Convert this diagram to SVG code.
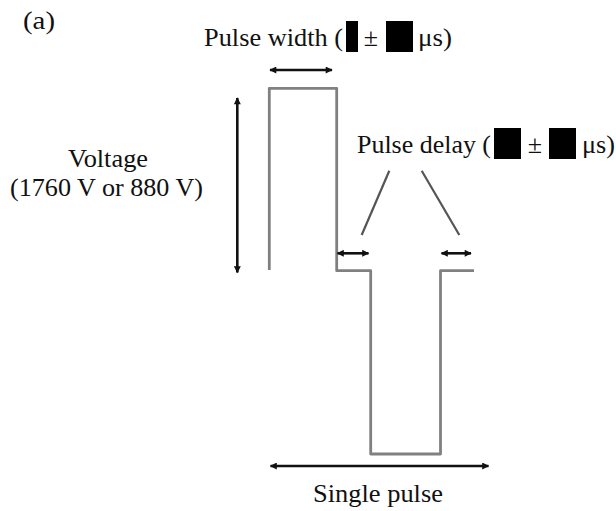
<svg xmlns="http://www.w3.org/2000/svg" width="616" height="511" viewBox="0 0 616 511">
<defs>
<marker id="ah" viewBox="0 0 10 10" refX="9" refY="5" markerWidth="8" markerHeight="7" markerUnits="userSpaceOnUse" orient="auto-start-reverse">
<path d="M0,0 L10,5 L0,10 Z" fill="#111"/>
</marker>
</defs>
<style>
text{font-family:'Liberation Serif','Times New Roman',serif;font-size:26px;fill:#111}
.wave{fill:none;stroke:#808080;stroke-width:2.8;stroke-linejoin:round}
.arr{fill:none;stroke:#111;stroke-width:2.6;marker-start:url(#ah);marker-end:url(#ah)}
.lead{fill:none;stroke:#555;stroke-width:2.2}
.blk{fill:#000}
</style>
<rect width="616" height="511" fill="#fff"/>
<g id="label-a"><text x="23" y="29" textLength="32" lengthAdjust="spacingAndGlyphs">(a)</text></g>
<g id="pulse-width-label">
<text x="204" y="46" textLength="139" lengthAdjust="spacingAndGlyphs">Pulse width (</text>
<rect class="blk" x="346" y="21" width="12" height="31"/>
<text x="371" y="46" text-anchor="middle">±</text>
<rect class="blk" x="386" y="21" width="27" height="31"/>
<text x="418" y="46" textLength="34" lengthAdjust="spacingAndGlyphs">μs)</text>
</g>
<g id="pulse-delay-label">
<text x="357" y="153" textLength="134" lengthAdjust="spacingAndGlyphs">Pulse delay (</text>
<rect class="blk" x="494" y="128" width="27" height="31"/>
<text x="535" y="153" text-anchor="middle">±</text>
<rect class="blk" x="549" y="128" width="27" height="31"/>
<text x="582" y="153" textLength="33" lengthAdjust="spacingAndGlyphs">μs)</text>
</g>
<g id="voltage-label">
<text x="108" y="167" text-anchor="middle" textLength="80" lengthAdjust="spacingAndGlyphs">Voltage</text>
<text x="106.5" y="196" text-anchor="middle" textLength="193" lengthAdjust="spacingAndGlyphs">(1760 V or 880 V)</text>
</g>
<g id="single-pulse-label"><text x="378" y="502" text-anchor="middle" textLength="130" lengthAdjust="spacingAndGlyphs">Single pulse</text></g>
<g id="waveform">
<path class="wave" d="M269.3,270 V88.3 H336.7 V270.7 H370.7 V454 H440.5 V270.7 H474"/>
</g>
<g id="connectors">
<line class="arr" x1="270" y1="70" x2="332" y2="70"/>
<line class="arr" x1="237.3" y1="98" x2="237.3" y2="272.5"/>
<line class="arr" x1="337.5" y1="253.3" x2="368.5" y2="253.3"/>
<line class="arr" x1="441.5" y1="253.3" x2="471" y2="253.3"/>
<line class="arr" x1="270.5" y1="466" x2="488.5" y2="466"/>
<line class="lead" x1="389.3" y1="170.7" x2="361.7" y2="235"/>
<line class="lead" x1="421.7" y1="170.7" x2="459.3" y2="235"/>
</g>
</svg>
